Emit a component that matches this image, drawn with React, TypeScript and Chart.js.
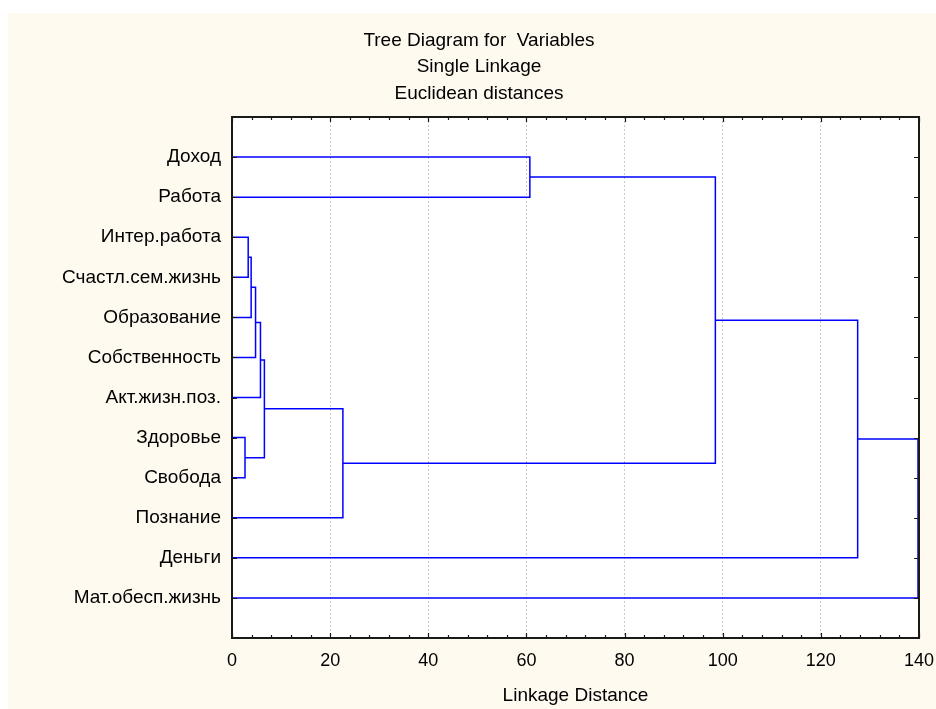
import { useEffect, useRef } from 'react';
import { Chart, registerables } from 'chart.js';

Chart.register(...registerables);

// Variables in dendrogram order (top to bottom)
const variables = [
  'Доход',
  'Работа',
  'Интер.работа',
  'Счастл.сем.жизнь',
  'Образование',
  'Собственность',
  'Акт.жизн.поз.',
  'Здоровье',
  'Свобода',
  'Познание',
  'Деньги',
  'Мат.обесп.жизнь',
];

// Merge steps: 'vN' = variable N, 'mK' = cluster formed at merge step K
const mergeLeft = ['v7', 'v2', 'm1', 'm2', 'm3', 'm4', 'm5', 'v0', 'm7', 'm8', 'm9'];
const mergeRight = ['v8', 'v3', 'v4', 'v5', 'v6', 'm0', 'v9', 'v1', 'm6', 'v10', 'v11'];
const mergeHeight = [2.65, 3.3, 3.9, 4.8, 5.8, 6.6, 22.6, 60.7, 98.5, 127.5, 139.8];

const xTicks = [0, 20, 40, 60, 80, 100, 120, 140];
const titleLines = ['Tree Diagram for  Variables', 'Single Linkage', 'Euclidean distances'];
const xAxisTitle = 'Linkage Distance';

const FONT = '"Liberation Sans", Arial, sans-serif';

function buildLinks() {
  const pos: Record<string, number> = {};
  const hgt: Record<string, number> = {};
  variables.forEach((_, i) => {
    pos['v' + i] = i;
    hgt['v' + i] = 0;
  });
  return mergeHeight.map((h, k) => {
    const a = mergeLeft[k];
    const b = mergeRight[k];
    const pts = [
      { x: hgt[a], y: pos[a] },
      { x: h, y: pos[a] },
      { x: h, y: pos[b] },
      { x: hgt[b], y: pos[b] },
    ];
    pos['m' + k] = (pos[a] + pos[b]) / 2;
    hgt['m' + k] = h;
    return pts;
  });
}

const framePlugin = {
  id: 'frameTicks',
  beforeDraw(chart: any) {
    const { ctx, chartArea } = chart;
    ctx.save();
    ctx.fillStyle = '#ffffff';
    ctx.fillRect(chartArea.left, chartArea.top, chartArea.right - chartArea.left, chartArea.bottom - chartArea.top);
    ctx.restore();
  },
  afterDatasetsDraw(chart: any) {
    const { ctx, chartArea } = chart;
    const { left, right, top, bottom } = chartArea;
    const xs = chart.scales.x;
    const ys = chart.scales.y;
    ctx.save();
    ctx.strokeStyle = '#1a1a1a';
    ctx.lineWidth = 1.2;
    ctx.beginPath();
    const xMax = xTicks[xTicks.length - 1];
    for (let v = 0; v <= xMax; v += 4) {
      const px = Math.round(xs.getPixelForValue(v)) + 0.5;
      const len = v % 20 === 0 ? 5 : 3;
      ctx.moveTo(px, bottom);
      ctx.lineTo(px, bottom - len);
      ctx.moveTo(px, top);
      ctx.lineTo(px, top + len);
    }
    variables.forEach((_, i) => {
      const py = Math.round(ys.getPixelForValue(i)) + 0.5;
      ctx.moveTo(left, py);
      ctx.lineTo(left + 5, py);
      ctx.moveTo(right, py);
      ctx.lineTo(right - 5, py);
    });
    ctx.stroke();
    ctx.lineWidth = 2;
    ctx.strokeRect(left, top, right - left, bottom - top);
    ctx.restore();
  },
};

export default function App() {
  const ref = useRef<HTMLCanvasElement | null>(null);
  useEffect(() => {
    if (!ref.current) return;
    const links = buildLinks();
    const chart = new Chart(ref.current, {
      type: 'scatter',
      data: {
        datasets: links.map((pts) => ({
          data: pts,
          showLine: true,
          borderColor: '#0000ff',
          backgroundColor: '#0000ff',
          borderWidth: 1.5,
          pointRadius: 0,
          pointHoverRadius: 0,
          fill: false,
          tension: 0,
        })),
      },
      options: {
        responsive: false,
        animation: false,
        devicePixelRatio: 1,
        layout: { padding: { left: 14, right: 0, top: 0, bottom: 0 } },
        plugins: {
          legend: { display: false },
          tooltip: { enabled: false },
          title: {
            display: true,
            text: titleLines,
            color: '#000',
            font: { family: FONT, size: 19, weight: 'normal', lineHeight: 1.4 },
            padding: { top: 14, bottom: 10.2 },
          },
        },
        scales: {
          x: {
            type: 'linear',
            min: 0,
            max: 140,
            afterBuildTicks: (s: any) => {
              s.ticks = xTicks.map((v) => ({ value: v }));
            },
            ticks: {
              color: '#000',
              font: { family: FONT, size: 18 },
              padding: 12,
              maxRotation: 0,
              autoSkip: false,
            },
            grid: { color: '#c8c8c8', lineWidth: 1, drawTicks: false },
            border: { display: false, dash: [2, 2] },
            title: {
              display: true,
              text: xAxisTitle,
              color: '#000',
              font: { family: FONT, size: 19 },
              padding: { top: 0, bottom: 2 },
            },
            afterFit: (s: any) => {
              s.height = 71;
              s.paddingLeft = 0;
              s.paddingRight = 17;
            },
          },
          y: {
            type: 'linear',
            reverse: true,
            min: -1,
            max: variables.length,
            afterBuildTicks: (s: any) => {
              s.ticks = variables.map((_, i) => ({ value: i }));
            },
            ticks: {
              callback: (v: any) => variables[v as number],
              color: '#000',
              font: { family: FONT, size: 19 },
              padding: 11,
              autoSkip: false,
            },
            grid: { display: false, drawTicks: false },
            border: { display: false },
            afterFit: (s: any) => {
              s.width = 210;
              s.paddingTop = 0;
              s.paddingBottom = 0;
            },
          },
        },
      } as any,
      plugins: [framePlugin],
    });
    return () => chart.destroy();
  }, []);

  return (
    <div style={{ position: 'fixed', left: 8, top: 13 }}>
      <canvas
        ref={ref}
        width={928}
        height={696}
        style={{ display: 'block', background: '#fffaf0' }}
      />
    </div>
  );
}
